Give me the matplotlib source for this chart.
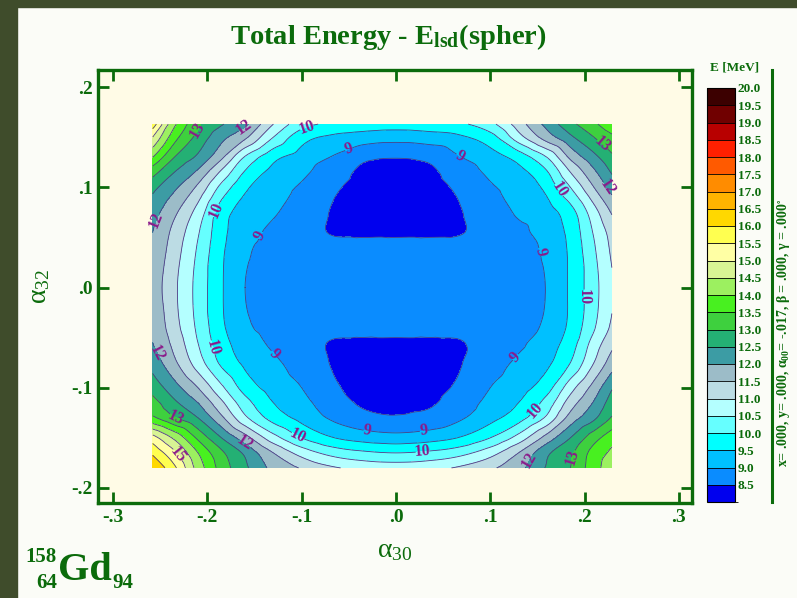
import numpy as np
import matplotlib
matplotlib.use("Agg")
import matplotlib.pyplot as plt
import matplotlib.tri as mtri
from matplotlib.colors import ListedColormap, BoundaryNorm
from matplotlib.colorbar import ColorbarBase
from matplotlib.patches import Rectangle
from matplotlib.lines import Line2D

# ---------------- data ----------------
alpha30 = [-0.258, -0.235, -0.21, -0.185, -0.16, -0.13, -0.10, -0.065, -0.035, 0.0,
           0.035, 0.065, 0.10, 0.13, 0.16, 0.185, 0.21, 0.229]
alpha32 = [-0.18, -0.165, -0.15, -0.13, -0.115, -0.10, -0.075, -0.055, -0.04, 0.0,
           0.04, 0.055, 0.075, 0.10, 0.115, 0.13, 0.15, 0.163]
# total energy [MeV], one row per alpha32 value (bottom to top)
e_m180 = [16.5, 15.6, 14.3, 13.3, 12.6, 11.85, 11.45, 11.05, 10.87, 10.8, 10.87, 11.05, 11.4, 11.85, 12.55, 13.0, 13.8, 14.3]
e_m165 = [15.9, 15.1, 14.0, 13.1, 12.4, 11.5, 10.8, 10.3, 10.1, 10.0, 10.1, 10.3, 10.8, 11.5, 12.4, 12.9, 13.7, 14.1]
e_m150 = [15.2, 14.4, 13.4, 12.5, 11.7, 10.7, 10.0, 9.5, 9.3, 9.2, 9.3, 9.5, 10.0, 10.7, 11.7, 12.5, 13.3, 13.8]
e_m130 = [13.6, 13.05, 12.5, 11.6, 10.6, 9.8, 9.35, 8.9, 8.65, 8.55, 8.65, 8.9, 9.35, 9.8, 10.6, 11.7, 12.4, 13.05]
e_m115 = [13.2, 12.6, 12.0, 11.1, 10.2, 9.5, 9.15, 8.7, 8.44, 8.40, 8.44, 8.7, 9.15, 9.5, 10.2, 11.25, 12.05, 12.75]
e_m100 = [12.8, 12.2, 11.5, 10.6, 9.8, 9.3, 9.0, 8.56, 8.38, 8.33, 8.38, 8.56, 9.0, 9.3, 9.8, 10.8, 11.7, 12.45]
e_m075 = [12.3, 11.6, 10.75, 9.9, 9.4, 9.08, 8.82, 8.45, 8.33, 8.32, 8.33, 8.45, 8.82, 9.08, 9.4, 10.0, 11.0, 11.75]
e_m055 = [12.0, 11.35, 10.5, 9.7, 9.25, 8.92, 8.75, 8.44, 8.40, 8.40, 8.40, 8.44, 8.75, 8.92, 9.25, 9.75, 10.7, 11.35]
e_m040 = [11.95, 11.2, 10.4, 9.6, 9.1, 8.85, 8.74, 8.72, 8.72, 8.72, 8.72, 8.72, 8.74, 8.85, 9.1, 9.62, 10.45, 11.1]
e_p000 = [11.8, 11.1, 10.33, 9.55, 9.0, 8.82, 8.75, 8.72, 8.71, 8.70, 8.71, 8.72, 8.75, 8.82, 9.02, 9.58, 10.33, 10.95]
e_p040 = [11.95, 11.25, 10.45, 9.6, 9.1, 8.85, 8.74, 8.72, 8.72, 8.72, 8.72, 8.72, 8.74, 8.85, 9.1, 9.6, 10.45, 11.1]
e_p055 = [12.0, 11.35, 10.55, 9.65, 9.2, 8.9, 8.75, 8.44, 8.40, 8.40, 8.40, 8.44, 8.75, 8.9, 9.2, 9.65, 10.55, 11.2]
e_p075 = [12.2, 11.6, 10.8, 9.75, 9.3, 9.05, 8.8, 8.45, 8.33, 8.32, 8.33, 8.45, 8.8, 9.05, 9.3, 9.8, 10.8, 11.55]
e_p100 = [12.65, 12.1, 11.4, 10.35, 9.6, 9.15, 8.95, 8.56, 8.38, 8.33, 8.38, 8.56, 8.95, 9.15, 9.65, 10.5, 11.5, 12.2]
e_p115 = [13.2, 12.5, 11.9, 10.9, 9.95, 9.35, 9.1, 8.7, 8.42, 8.38, 8.42, 8.7, 9.1, 9.35, 9.95, 11.0, 11.9, 12.55]
e_p130 = [14.0, 13.0, 12.4, 11.6, 10.45, 9.65, 9.3, 8.95, 8.6, 8.52, 8.6, 8.95, 9.3, 9.7, 10.5, 11.6, 12.35, 12.9]
e_p150 = [15.0, 13.7, 12.85, 12.15, 11.6, 10.5, 9.7, 9.4, 9.28, 9.2, 9.28, 9.4, 9.8, 10.8, 11.75, 12.4, 13.0, 13.4]
e_p163 = [15.8, 14.1, 13.1, 12.55, 12.1, 11.0, 10.2, 9.9, 9.8, 9.75, 9.8, 9.9, 10.35, 11.25, 12.15, 12.85, 13.4, 13.85]
energy_rows = [e_m180, e_m165, e_m150, e_m130, e_m115, e_m100, e_m075, e_m055, e_m040,
               e_p000, e_p040, e_p055, e_p075, e_p100, e_p115, e_p130, e_p150, e_p163]

energy_levels = [8.0, 8.5, 9.0, 9.5, 10.0, 10.5, 11.0, 11.5, 12.0, 12.5, 13.0, 13.5,
                 14.0, 14.5, 15.0, 15.5, 16.0, 16.5, 17.0, 17.5, 18.0, 18.5, 19.0, 19.5, 20.0]
level_colors = ['#0000ee', '#0a8cff', '#00c0ff', '#00ffff', '#66ffff', '#b4ffff',
                '#bcdce4', '#9cbcc8', '#3c9ca4', '#24b074', '#3ed03e', '#48f020',
                '#9cf060', '#d8f494', '#ffffa4', '#ffff50', '#ffd800', '#ffb400',
                '#ff8c00', '#ff5a00', '#ff2000', '#b80000', '#700000', '#3c0000']
label_levels = [9.0, 10.0, 12.0, 13.0, 15.0]
# approximate places of the inline contour labels (alpha30, alpha32)
label_spots = [(-0.142, 0.051), (-0.05, 0.138), (0.066, 0.128), (0.151, 0.035),
               (0.124, -0.067), (0.029, -0.140), (-0.030, -0.140), (-0.128, -0.065),
               (-0.094, 0.158), (-0.194, 0.078), (-0.202, -0.062), (-0.105, -0.150),
               (0.029, -0.172), (0.145, -0.120), (0.216, -0.009), (0.174, 0.098),
               (-0.158, 0.156), (-0.243, 0.063), (-0.250, -0.064), (-0.160, -0.155),
               (0.135, -0.167), (0.222, 0.098),
               (-0.208, 0.156), (0.222, 0.146), (-0.236, -0.135), (0.187, -0.169),
               (-0.234, -0.169)]
cbar_ticks = [8.5, 9.0, 9.5, 10.0, 10.5, 11.0, 11.5, 12.0, 12.5, 13.0, 13.5, 14.0,
              14.5, 15.0, 15.5, 16.0, 16.5, 17.0, 17.5, 18.0, 18.5, 19.0, 19.5, 20.0]
x_ticks = [-0.3, -0.2, -0.1, 0.0, 0.1, 0.2, 0.3]
x_tick_labels = ['-.3', '-.2', '-.1', '.0', '.1', '.2', '.3']
y_ticks = [-0.2, -0.1, 0.0, 0.1, 0.2]
y_tick_labels = ['-.2', '-.1', '.0', '.1', '.2']

# ---------------- style ----------------
GREEN = '#0b6b0b'
SERIF = 'Liberation Serif'
LINE_C = '#4a3c86'
plt.rcParams['font.family'] = [SERIF, 'DejaVu Serif']
plt.rcParams['mathtext.fontset'] = 'custom'
plt.rcParams['mathtext.rm'] = SERIF
plt.rcParams['mathtext.it'] = SERIF + ':italic'
plt.rcParams['mathtext.bf'] = SERIF + ':bold'

W, H = 797, 598
fig = plt.figure(figsize=(W / 100, H / 100), dpi=100, facecolor='#fbfcf7')

# dark frame of the slide
border = '#3f4c2b'
fig.add_artist(Rectangle((0, 0), 17 / W, 1, transform=fig.transFigure, color=border, zorder=0))
fig.add_artist(Rectangle((0, 1 - 7 / H), 1, 7 / H, transform=fig.transFigure, color=border, zorder=0))

ax = fig.add_axes([98 / W, 1 - 503 / H, (692 - 98) / W, (503 - 70) / H])
ax.set_facecolor('#fffbe6')

U, V = np.meshgrid(np.array(alpha30), np.array(alpha32))
Z = np.array(energy_rows)
tri = mtri.Triangulation(U.ravel(), V.ravel())
interp = mtri.CubicTriInterpolator(tri, Z.ravel(), kind='geom')
refiner = mtri.UniformTriRefiner(tri)
tri_f, z_f = refiner.refine_field(Z.ravel(), triinterpolator=interp, subdiv=3)

cmap = ListedColormap(level_colors)
norm = BoundaryNorm(energy_levels, cmap.N)
ax.tricontourf(tri_f, z_f, levels=energy_levels, cmap=cmap, norm=norm, extend='neither')
plain_levels = [lv for lv in energy_levels[1:] if lv not in label_levels]
ax.tricontour(tri_f, z_f, levels=plain_levels, colors=LINE_C, linewidths=0.6)
cs = ax.tricontour(tri_f, z_f, levels=label_levels, colors=LINE_C, linewidths=0.6)
lab = ax.clabel(cs, fmt='%d', fontsize=11.5, colors='#8a1a8a',
                inline=True, inline_spacing=1, manual=label_spots)
for t in lab:
    t.set_fontweight('bold')
    t.set_fontfamily(SERIF)

ax.set_xlim(-0.316, 0.314)
ax.set_ylim(-0.215, 0.217)
ax.set_xticks(x_ticks)
ax.set_xticklabels(x_tick_labels)
ax.set_yticks(y_ticks)
ax.set_yticklabels(y_tick_labels)
ax.tick_params(direction='in', length=8, width=2, color=GREEN, top=True, right=True,
               labelsize=14, labelcolor=GREEN, pad=4)
for lb in ax.get_xticklabels() + ax.get_yticklabels():
    lb.set_fontweight('bold')
for sp in ax.spines.values():
    sp.set_color(GREEN)
    sp.set_linewidth(2.4)

ax.set_xlabel(r'$\mathregular{\alpha_{30}}$', fontsize=20, color=GREEN, labelpad=9)
ax.set_ylabel(r'$\mathregular{\alpha_{32}}$', fontsize=20, color=GREEN, labelpad=14)

# title
fig.text(388 / W, 1 - 37 / H, r'Total Energy - E$\mathregular{_{lsd}}$(spher)', ha='center',
         va='center', fontsize=20.5, fontweight='bold', color=GREEN)

# colour bar
cax = fig.add_axes([707 / W, 1 - 502 / H, 28 / W, (502 - 88) / H])
cb = ColorbarBase(cax, cmap=cmap, norm=norm, boundaries=energy_levels, ticks=cbar_ticks,
                  drawedges=True, orientation='vertical')
cb.outline.set_edgecolor('black')
cb.outline.set_linewidth(0.8)
cb.dividers.set_color('black')
cb.dividers.set_linewidth(0.6)
cax.set_yticklabels(['%.1f' % t for t in cbar_ticks])
cax.tick_params(length=0, pad=2, labelsize=9.5, labelcolor=GREEN)
for lb in cax.get_yticklabels():
    lb.set_fontweight('bold')
fig.text(735 / W, 1 - 68 / H, 'E [MeV]', ha='center', va='center', fontsize=9.5,
         fontweight='bold', color=GREEN)

# right side parameter line
fig.add_artist(Line2D([772 / W, 772 / W], [1 - 70 / H, 1 - 502 / H], transform=fig.transFigure,
                      color=GREEN, lw=2.2))
fig.text(784 / W, 1 - 333 / H,
         r'x= .000, y= .000, $\mathregular{\alpha_{00}}$= -.017, $\mathregular{\beta}$ = .000, $\mathregular{\gamma}$ = .000$\mathregular{^{\circ}}$',
         rotation=90, ha='center', va='center', fontsize=10, fontweight='bold', color=GREEN)

# nucleus label
fig.text(57 / W, 1 - 562 / H, '158', ha='right', va='baseline', fontsize=15, fontweight='bold', color=GREEN)
fig.text(57 / W, 1 - 588 / H, '64', ha='right', va='baseline', fontsize=15, fontweight='bold', color=GREEN)
gd = fig.text(58 / W, 1 - 580 / H, 'Gd', ha='left', va='baseline', fontsize=29, fontweight='bold', color=GREEN)
renderer = fig.canvas.get_renderer()
gd_right = gd.get_window_extent(renderer).x1
fig.text((gd_right + 1) / W, 1 - 588 / H, '94', ha='left', va='baseline', fontsize=15,
         fontweight='bold', color=GREEN)

fig.savefig('out.png', dpi=100, facecolor=fig.get_facecolor())
